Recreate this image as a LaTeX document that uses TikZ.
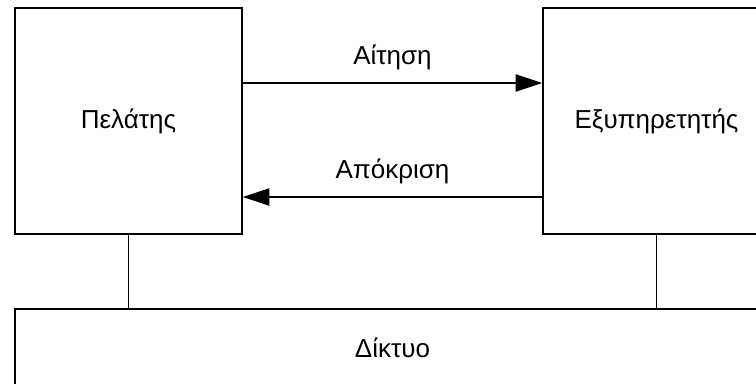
\documentclass[tikz,border=0pt]{standalone}
\usepackage{fontspec}
\setmainfont{Liberation Sans}
\usetikzlibrary{arrows.meta}

\begin{document}
\begin{tikzpicture}[x=0.75pt,y=-0.75pt,
  box/.style={draw, line width=1.2pt, inner sep=0pt, font=\fontsize{19.5}{23}\selectfont},
  msg/.style={-{Triangle[length=20pt,width=13pt]}, line width=0.9pt},
  msglabel/.style={anchor=base, yshift=14pt, font=\fontsize{19.5}{23}\selectfont}]
\useasboundingbox (0,0) rectangle (756,384);
% Draw the two end systems and the network
\node[box, minimum width=170.25pt, minimum height=169.5pt] (client) at (128.5,121) {Πελάτης};
\node[box, minimum width=170.25pt, minimum height=169.5pt] (server) at (656.5,121) {Εξυπηρετητής};
\node[box, minimum width=566.25pt, minimum height=57.75pt] (net) at (392.5,347.5) {Δίκτυο};

% Request and response
\coordinate (req) at (0,83);
\coordinate (resp) at (0,197);
\draw[msg] (client.east |- req) -- (server.west |- req) node[midway, msglabel] {Αίτηση};
\draw[msg] (server.west |- resp) -- (client.east |- resp) node[midway, msglabel] {Απόκριση};

% Connect to the network
\draw[line width=1.2pt] (client.south) -- (client.south |- net.north);
\draw[line width=1.2pt] (server.south) -- (server.south |- net.north);
\end{tikzpicture}
\end{document}
